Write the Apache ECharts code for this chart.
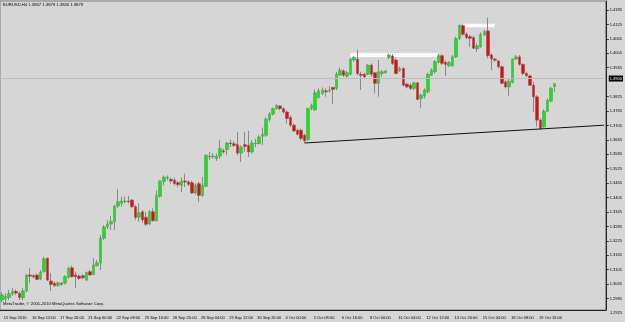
<!DOCTYPE html>
<html>
<head>
<meta charset="utf-8">
<title>EURUSD,H4</title>
<script src="https://cdn.jsdelivr.net/npm/echarts@6/dist/echarts.min.js"></script>
<style>
  html, body { margin: 0; padding: 0; background: #d6d6d6; }
  #chart { width: 625px; height: 322px; }
</style>
</head>
<body>
<div id="chart"></div>
<script>
// EURUSD H4, one entry per bar (15 Sep 2010 -> 19 Oct 2010)
const opens = [
  1.2979, 1.2983, 1.2990, 1.3006, 1.3015, 1.3006, 1.2988, 1.3017, 1.3083, 1.3080,
  1.3083, 1.3066, 1.3097, 1.3153, 1.3058, 1.3049, 1.3039, 1.3049, 1.3049, 1.3074,
  1.3113, 1.3083, 1.3079, 1.3080, 1.3062, 1.3097, 1.3086, 1.3122, 1.3133, 1.3236,
  1.3283, 1.3295, 1.3305, 1.3370, 1.3381, 1.3388, 1.3391, 1.3395, 1.3367, 1.3323,
  1.3346, 1.3323, 1.3295, 1.3346, 1.3309, 1.3410, 1.3472, 1.3486, 1.3481, 1.3477,
  1.3467, 1.3456, 1.3474, 1.3470, 1.3467, 1.3424, 1.3463, 1.3414, 1.3452, 1.3574,
  1.3574, 1.3567, 1.3577, 1.3599, 1.3605, 1.3632, 1.3629, 1.3625, 1.3590, 1.3625,
  1.3622, 1.3595, 1.3630, 1.3629, 1.3660, 1.3664, 1.3730, 1.3752, 1.3775, 1.3786,
  1.3775, 1.3761, 1.3738, 1.3706, 1.3685, 1.3685, 1.3664, 1.3646, 1.3775, 1.3769,
  1.3821, 1.3838, 1.3849, 1.3849, 1.3863, 1.3859, 1.3914, 1.3932, 1.3910, 1.3918,
  1.3977, 1.3980, 1.3918, 1.3918, 1.3918, 1.3956, 1.3924, 1.3880, 1.3921, 1.3924,
  1.3988, 1.3993, 1.3977, 1.3932, 1.3942, 1.3877, 1.3872, 1.3859, 1.3882, 1.3817,
  1.3827, 1.3845, 1.3914, 1.3928, 1.3967, 1.3995, 1.3967, 1.3953, 1.3953, 1.3990,
  1.4067, 1.4120, 1.4084, 1.4074, 1.4070, 1.4023, 1.4032, 1.4081, 1.4098, 1.3998,
  1.3981, 1.3973, 1.3949, 1.3886, 1.3865, 1.3884, 1.3981, 1.3990, 1.3959, 1.3921,
  1.3911, 1.3872, 1.3824, 1.3727, 1.3699, 1.3764, 1.3806, 1.3867
];
const highs = [
  1.3012, 1.3008, 1.3021, 1.3029, 1.3023, 1.3015, 1.3029, 1.3087, 1.3111, 1.3087,
  1.3090, 1.3104, 1.3159, 1.3155, 1.3090, 1.3055, 1.3055, 1.3053, 1.3083, 1.3118,
  1.3122, 1.3097, 1.3086, 1.3086, 1.3097, 1.3104, 1.3153, 1.3146, 1.3249, 1.3291,
  1.3312, 1.3329, 1.3374, 1.3440, 1.3409, 1.3409, 1.3412, 1.3398, 1.3374, 1.3381,
  1.3353, 1.3346, 1.3353, 1.3361, 1.3435, 1.3477, 1.3497, 1.3497, 1.3488, 1.3488,
  1.3474, 1.3488, 1.3504, 1.3477, 1.3474, 1.3464, 1.3470, 1.3490, 1.3585, 1.3595,
  1.3590, 1.3588, 1.3646, 1.3609, 1.3636, 1.3646, 1.3640, 1.3678, 1.3622, 1.3678,
  1.3682, 1.3643, 1.3650, 1.3664, 1.3696, 1.3740, 1.3761, 1.3779, 1.3793, 1.3789,
  1.3779, 1.3768, 1.3747, 1.3713, 1.3692, 1.3692, 1.3671, 1.3779, 1.3796, 1.3855,
  1.3859, 1.3863, 1.3859, 1.3868, 1.3865, 1.3928, 1.3946, 1.3938, 1.3932, 1.3984,
  1.3993, 1.4021, 1.3928, 1.3924, 1.3960, 1.3963, 1.3928, 1.3977, 1.3935, 1.3935,
  1.4005, 1.4002, 1.3984, 1.3949, 1.3946, 1.3882, 1.3880, 1.3886, 1.3886, 1.3838,
  1.3859, 1.3924, 1.3942, 1.3977, 1.4002, 1.4000, 1.3977, 1.3973, 1.3998, 1.4074,
  1.4125, 1.4125, 1.4092, 1.4081, 1.4078, 1.4046, 1.4092, 1.4102, 1.4153, 1.4005,
  1.3986, 1.3977, 1.3953, 1.3893, 1.3900, 1.3984, 1.3998, 1.3998, 1.3963, 1.3928,
  1.3917, 1.3886, 1.3831, 1.3734, 1.3772, 1.3817, 1.3866, 1.3879
];
const lows = [
  1.2971, 1.2967, 1.2979, 1.2996, 1.3000, 1.2979, 1.2979, 1.3012, 1.3049, 1.3069,
  1.3062, 1.3062, 1.3093, 1.3058, 1.3017, 1.3033, 1.3035, 1.3039, 1.3044, 1.3069,
  1.3072, 1.3028, 1.3062, 1.3066, 1.3058, 1.3080, 1.3083, 1.3118, 1.3104, 1.3229,
  1.3274, 1.3270, 1.3270, 1.3361, 1.3367, 1.3381, 1.3381, 1.3361, 1.3312, 1.3305,
  1.3301, 1.3287, 1.3291, 1.3305, 1.3305, 1.3405, 1.3456, 1.3477, 1.3463, 1.3456,
  1.3449, 1.3428, 1.3449, 1.3452, 1.3421, 1.3418, 1.3386, 1.3407, 1.3449, 1.3560,
  1.3567, 1.3557, 1.3567, 1.3588, 1.3581, 1.3615, 1.3615, 1.3581, 1.3553, 1.3595,
  1.3574, 1.3588, 1.3615, 1.3627, 1.3623, 1.3657, 1.3720, 1.3747, 1.3771, 1.3768,
  1.3754, 1.3713, 1.3699, 1.3678, 1.3664, 1.3643, 1.3632, 1.3641, 1.3768, 1.3766,
  1.3817, 1.3831, 1.3824, 1.3841, 1.3794, 1.3852, 1.3910, 1.3907, 1.3905, 1.3914,
  1.3970, 1.3914, 1.3852, 1.3901, 1.3914, 1.3907, 1.3838, 1.3824, 1.3907, 1.3921,
  1.3980, 1.3956, 1.3918, 1.3928, 1.3868, 1.3859, 1.3852, 1.3852, 1.3810, 1.3776,
  1.3817, 1.3838, 1.3911, 1.3921, 1.3963, 1.3956, 1.3911, 1.3949, 1.3949, 1.3986,
  1.4060, 1.4078, 1.4064, 1.4032, 1.4023, 1.4011, 1.4028, 1.4078, 1.3984, 1.3935,
  1.3970, 1.3942, 1.3876, 1.3859, 1.3828, 1.3880, 1.3977, 1.3953, 1.3914, 1.3907,
  1.3870, 1.3761, 1.3699, 1.3689, 1.3695, 1.3761, 1.3800, 1.3845
];
const closes = [
  1.3000, 1.2994, 1.3006, 1.3015, 1.3008, 1.2990, 1.3017, 1.3083, 1.3078, 1.3075,
  1.3065, 1.3094, 1.3150, 1.3062, 1.3044, 1.3039, 1.3051, 1.3045, 1.3076, 1.3111,
  1.3076, 1.3076, 1.3069, 1.3072, 1.3094, 1.3083, 1.3125, 1.3134, 1.3236, 1.3283,
  1.3295, 1.3305, 1.3370, 1.3388, 1.3391, 1.3391, 1.3388, 1.3367, 1.3323, 1.3342,
  1.3312, 1.3294, 1.3346, 1.3309, 1.3414, 1.3474, 1.3490, 1.3490, 1.3474, 1.3463,
  1.3459, 1.3474, 1.3470, 1.3460, 1.3424, 1.3456, 1.3414, 1.3456, 1.3581, 1.3577,
  1.3578, 1.3577, 1.3609, 1.3595, 1.3632, 1.3629, 1.3622, 1.3590, 1.3615, 1.3618,
  1.3595, 1.3632, 1.3632, 1.3657, 1.3668, 1.3731, 1.3752, 1.3775, 1.3789, 1.3775,
  1.3761, 1.3734, 1.3706, 1.3682, 1.3668, 1.3651, 1.3641, 1.3775, 1.3789, 1.3841,
  1.3849, 1.3852, 1.3845, 1.3852, 1.3855, 1.3918, 1.3935, 1.3914, 1.3924, 1.3980,
  1.3988, 1.3921, 1.3913, 1.3907, 1.3956, 1.3918, 1.3880, 1.3928, 1.3928, 1.3932,
  1.3998, 1.3963, 1.3921, 1.3942, 1.3872, 1.3865, 1.3859, 1.3882, 1.3813, 1.3831,
  1.3852, 1.3918, 1.3935, 1.3970, 1.3995, 1.3963, 1.3959, 1.3967, 1.3990, 1.4067,
  1.4120, 1.4084, 1.4070, 1.4067, 1.4026, 1.4036, 1.4084, 1.4095, 1.3995, 1.3981,
  1.3976, 1.3949, 1.3880, 1.3865, 1.3889, 1.3981, 1.3990, 1.3959, 1.3921, 1.3911,
  1.3872, 1.3824, 1.3727, 1.3692, 1.3764, 1.3810, 1.3860, 1.3879
];

// time scale, one label every 8 bars
const timeLabels = [
  '15 Sep 2010', '16 Sep 12:00', '17 Sep 20:00', '21 Sep 00:00', '22 Sep 08:00',
  '23 Sep 16:00', '26 Sep 20:00', '28 Sep 04:00', '29 Sep 12:00', '30 Sep 20:00',
  '4 Oct 00:00', '5 Oct 08:00', '6 Oct 16:00', '8 Oct 00:00', '11 Oct 04:00',
  '12 Oct 12:00', '13 Oct 20:00', '15 Oct 04:00', '18 Oct 08:00', '19 Oct 16:00'
];
const labelStep = 8;
const barSlots = 172; // bars plus the empty shift on the right

// price scale labels
const priceTicks = [
  1.2985, 1.3045, 1.3105, 1.3165, 1.3225, 1.3285, 1.3345, 1.3405, 1.3465, 1.3525,
  1.3585, 1.3645, 1.3705, 1.3765, 1.3825, 1.3945, 1.4005, 1.4065, 1.4125, 1.4185
];
const bottomTick = 1.2925;

// hand drawn objects [bar, price]
const trendLine = [[86, 1.3632], [171, 1.3706]];
const topLine1 = [[99, 1.3998], [124, 1.3998]];
const topLine2 = [[131, 1.4121], [140, 1.4121]];

const FONT = 'Liberation Sans';
const last = opens.length - 1;

const categories = Array.from({ length: barSlots }, (_, i) => i);
const ohlc = opens.map((o, i) => [o, closes[i], lows[i], highs[i]]);
const bodies = opens.map((o, i) => [o, closes[i], Math.min(o, closes[i]), Math.max(o, closes[i])]);

const chart = echarts.init(document.getElementById('chart'));

const option = {
  animation: false,
  backgroundColor: '#d6d6d6',
  title: {
    text: `EURUSD,H4 ${opens[last].toFixed(4)} ${highs[last].toFixed(4)} ${lows[last].toFixed(4)} ${closes[last].toFixed(4)}`,
    left: 3,
    top: 3,
    padding: 0,
    textStyle: { fontSize: 4.2, fontWeight: 'normal', color: '#000', fontFamily: FONT }
  },
  grid: {
    left: 0,
    top: 1,
    right: 19,
    bottom: 12,
    show: true,
    borderColor: '#7c7c7c',
    borderWidth: 1,
    backgroundColor: '#d6d6d6'
  },
  xAxis: {
    type: 'category',
    data: categories,
    boundaryGap: true,
    axisLine: { lineStyle: { color: '#222', width: 1 } },
    axisTick: { interval: labelStep - 1, alignWithLabel: true, length: 4, lineStyle: { color: '#222' } },
    axisLabel: {
      interval: labelStep - 1,
      align: 'left',
      margin: 6,
      padding: [0, 0, 0, 2],
      fontSize: 4,
      color: '#000',
      fontFamily: FONT,
      formatter: (v, idx) => timeLabels[idx / labelStep] || ''
    },
    splitLine: { show: false }
  },
  yAxis: {
    type: 'value',
    position: 'right',
    min: 1.29376,
    max: 1.42224,
    axisLine: { show: true, lineStyle: { color: '#222', width: 1 } },
    axisTick: { show: true, customValues: priceTicks, length: 3, lineStyle: { color: '#222' } },
    axisLabel: {
      customValues: priceTicks,
      margin: 4,
      fontSize: 4,
      color: '#000',
      fontFamily: FONT,
      formatter: v => v.toFixed(4)
    },
    splitLine: { show: false }
  },
  series: [
    {
      name: 'wicks',
      type: 'candlestick',
      data: ohlc,
      barWidth: 1,
      itemStyle: {
        color: '#888', color0: '#888',
        borderColor: '#888', borderColor0: '#888',
        borderWidth: 1
      }
    },
    {
      name: 'bodies',
      type: 'candlestick',
      data: bodies,
      barWidth: 3,
      itemStyle: {
        color: '#14e614', color0: '#dc1010',
        borderColor: '#5d8a5d', borderColor0: '#8a4a4a',
        borderWidth: 0.5
      },
      markLine: {
        silent: true,
        symbol: 'none',
        animation: false,
        lineStyle: { color: '#bdbdbd', width: 1, type: 'solid' },
        label: {
          position: 'end',
          distance: 3,
          formatter: p => p.value.toFixed(4),
          color: '#fff',
          backgroundColor: '#000',
          padding: [1, 1, 1, 1],
          fontSize: 4,
          fontFamily: FONT
        },
        data: [{ yAxis: closes[last] }]
      }
    },
    {
      name: 'trend',
      type: 'line',
      data: trendLine,
      symbol: 'none',
      lineStyle: { color: '#111', width: 1 },
      z: 3
    },
    {
      name: 'top1',
      type: 'line',
      data: topLine1,
      symbol: 'none',
      lineStyle: { color: '#fff', width: 4 },
      z: 1
    },
    {
      name: 'top2',
      type: 'line',
      data: topLine2,
      symbol: 'none',
      lineStyle: { color: '#fff', width: 3.5 },
      z: 1
    }
  ]
};

chart.setOption(option);

// lowest price label sits below the chart frame, and the copyright line
const bottomY = chart.convertToPixel({ yAxisIndex: 0 }, bottomTick);
chart.setOption({
  graphic: [
    {
      type: 'text',
      left: 3,
      top: 302,
      style: { text: 'MetaTrader, © 2001-2010 MetaQuotes Software Corp.', font: `4.2px "${FONT}"`, fill: '#000' }
    },
    {
      type: 'text',
      x: 610,
      y: bottomY,
      style: { text: bottomTick.toFixed(4), font: `4px "${FONT}"`, fill: '#000', verticalAlign: 'middle' }
    }
  ]
});
</script>
</body>
</html>
